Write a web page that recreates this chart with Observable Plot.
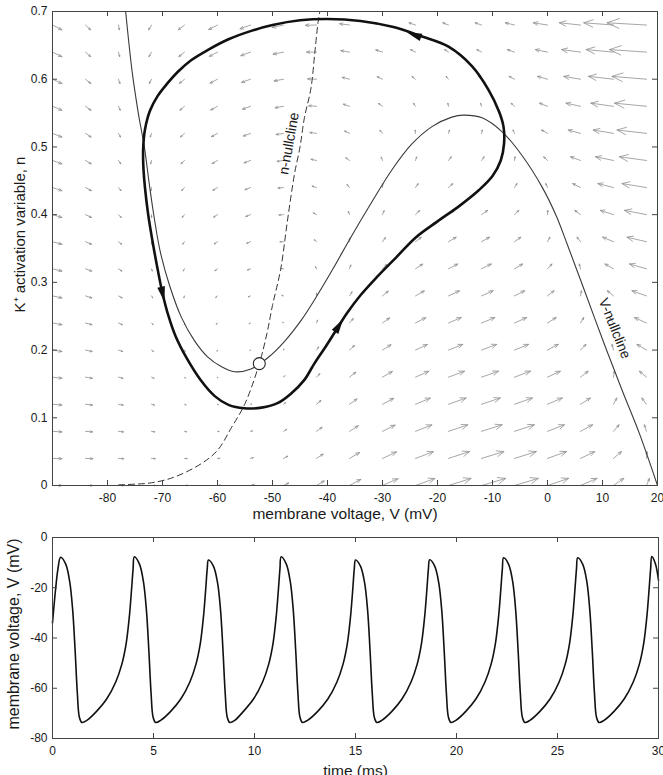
<!DOCTYPE html>
<html><head><meta charset="utf-8">
<script src="https://cdn.jsdelivr.net/npm/d3@7"></script>
<script src="https://cdn.jsdelivr.net/npm/@observablehq/plot@0.6"></script>
<style>
body{margin:0;background:#fff;}
#chart svg{display:block;}
</style></head><body><div id="chart"></div>
<script>
// ---------- Phase plane: vector field (dV/dt, dn/dt at grid points) ----------
const V_GRID = [-90,-84,-78,-72,-66,-60,-54,-48,-42,-36,-30,-24,-18,-12,-6,0,6,12,18];
const N_GRID = [0,0.04,0.08,0.12,0.16,0.2,0.24,0.28,0.32,0.36,0.4,0.44,0.48,0.52,0.56,0.6,0.64,0.68];
// one inner list per V column, entries follow N_GRID
const DVDT = [
[164,164,164,164,164,164,164,164,164,164,164,164,164,164,164,164,164,164],
[127.8,125.4,123,120.6,118.2,115.8,113.4,111,108.6,106.2,103.8,101.4,99,96.6,94.2,91.8,89.4,87],
[96.6,91.8,87,82.2,77.4,72.6,67.8,63,58.2,53.4,48.6,43.8,39,34.2,29.4,24.6,19.8,15],
[71.9,64.7,57.5,50.3,43.1,35.9,28.7,21.5,14.3,7.1,-0.1,-7.3,-14.5,-21.7,-28.9,-36.1,-43.3,-50.5],
[56.2,46.6,37,27.4,17.8,8.2,-1.4,-11,-20.6,-30.2,-39.8,-49.4,-59,-68.6,-78.2,-87.8,-97.4,-107],
[51.9,39.9,27.9,15.9,3.9,-8.1,-20.1,-32.1,-44.1,-56.1,-68.1,-80.1,-92.1,-104.1,-116.1,-128.1,-140.1,-152.1],
[62.2,47.8,33.4,19,4.6,-9.8,-24.2,-38.6,-53,-67.4,-81.8,-96.2,-110.6,-125,-139.4,-153.8,-168.2,-182.6],
[89.3,72.5,55.7,38.9,22.1,5.3,-11.5,-28.3,-45.1,-61.9,-78.7,-95.5,-112.3,-129.1,-145.9,-162.7,-179.5,-196.3],
[134.5,115.3,96.1,76.9,57.7,38.5,19.3,0.1,-19.1,-38.3,-57.5,-76.7,-95.9,-115.1,-134.3,-153.5,-172.7,-191.9],
[195.6,174,152.4,130.8,109.2,87.6,66,44.4,22.8,1.2,-20.4,-42,-63.6,-85.2,-106.8,-128.4,-150,-171.6],
[266.7,242.7,218.7,194.7,170.7,146.7,122.7,98.7,74.7,50.7,26.7,2.7,-21.3,-45.3,-69.3,-93.3,-117.3,-141.3],
[336.7,310.3,283.9,257.5,231.1,204.7,178.3,151.9,125.5,99.1,72.7,46.3,19.9,-6.5,-32.9,-59.3,-85.7,-112.1],
[391.9,363.1,334.3,305.5,276.7,247.9,219.1,190.3,161.5,132.7,103.9,75.1,46.3,17.5,-11.3,-40.1,-68.9,-97.7],
[419.6,388.4,357.2,326,294.8,263.6,232.4,201.2,170,138.8,107.6,76.4,45.2,14,-17.2,-48.4,-79.6,-110.8],
[411.5,377.9,344.3,310.7,277.1,243.5,209.9,176.3,142.7,109.1,75.5,41.9,8.3,-25.3,-58.9,-92.5,-126.1,-159.7],
[365.7,329.7,293.7,257.7,221.7,185.7,149.7,113.7,77.7,41.7,5.7,-30.3,-66.3,-102.3,-138.3,-174.3,-210.3,-246.3],
[285.8,247.4,209,170.6,132.2,93.8,55.4,17,-21.4,-59.8,-98.2,-136.6,-175,-213.4,-251.8,-290.2,-328.6,-367],
[178.4,137.6,96.8,56,15.2,-25.6,-66.4,-107.2,-148,-188.8,-229.6,-270.4,-311.2,-352,-392.8,-433.6,-474.4,-515.2],
[50.2,7,-36.2,-79.4,-122.6,-165.8,-209,-252.2,-295.4,-338.6,-381.8,-425,-468.2,-511.4,-554.6,-597.8,-641,-684.2]
];
const DNDT = [
[0,-0.04,-0.08,-0.12,-0.16,-0.2,-0.24,-0.28,-0.32,-0.36,-0.4,-0.44,-0.48,-0.52,-0.56,-0.6,-0.64,-0.68],
[0,-0.04,-0.08,-0.12,-0.16,-0.2,-0.24,-0.28,-0.32,-0.36,-0.4,-0.44,-0.48,-0.52,-0.56,-0.6,-0.64,-0.68],
[0.001,-0.039,-0.079,-0.119,-0.159,-0.199,-0.239,-0.279,-0.319,-0.359,-0.399,-0.439,-0.479,-0.519,-0.559,-0.599,-0.639,-0.679],
[0.005,-0.036,-0.076,-0.116,-0.156,-0.196,-0.236,-0.276,-0.316,-0.356,-0.396,-0.436,-0.476,-0.516,-0.556,-0.596,-0.636,-0.676],
[0.015,-0.025,-0.065,-0.105,-0.145,-0.185,-0.225,-0.265,-0.305,-0.345,-0.385,-0.425,-0.465,-0.505,-0.545,-0.585,-0.625,-0.665],
[0.047,0.007,-0.033,-0.073,-0.113,-0.153,-0.193,-0.233,-0.273,-0.313,-0.353,-0.393,-0.433,-0.473,-0.513,-0.553,-0.593,-0.633],
[0.142,0.102,0.062,0.022,-0.018,-0.058,-0.098,-0.138,-0.178,-0.218,-0.258,-0.298,-0.338,-0.378,-0.418,-0.458,-0.498,-0.538],
[0.354,0.314,0.274,0.234,0.194,0.154,0.114,0.074,0.034,-0.006,-0.046,-0.086,-0.126,-0.166,-0.206,-0.246,-0.286,-0.326],
[0.646,0.606,0.566,0.526,0.486,0.446,0.406,0.366,0.326,0.286,0.246,0.206,0.166,0.126,0.086,0.046,0.006,-0.034],
[0.858,0.818,0.778,0.738,0.698,0.658,0.618,0.578,0.538,0.498,0.458,0.418,0.378,0.338,0.298,0.258,0.218,0.178],
[0.953,0.913,0.873,0.833,0.793,0.753,0.713,0.673,0.633,0.593,0.553,0.513,0.473,0.433,0.393,0.353,0.313,0.273],
[0.985,0.945,0.905,0.865,0.825,0.785,0.745,0.705,0.665,0.625,0.585,0.545,0.505,0.465,0.425,0.385,0.345,0.305],
[0.996,0.956,0.916,0.876,0.836,0.796,0.756,0.716,0.676,0.636,0.596,0.556,0.516,0.476,0.436,0.396,0.356,0.316],
[0.999,0.959,0.919,0.879,0.839,0.799,0.759,0.719,0.679,0.639,0.599,0.559,0.519,0.479,0.439,0.399,0.359,0.319],
[1,0.96,0.92,0.88,0.84,0.8,0.76,0.72,0.68,0.64,0.6,0.56,0.52,0.48,0.44,0.4,0.36,0.32],
[1,0.96,0.92,0.88,0.84,0.8,0.76,0.72,0.68,0.64,0.6,0.56,0.52,0.48,0.44,0.4,0.36,0.32],
[1,0.96,0.92,0.88,0.84,0.8,0.76,0.72,0.68,0.64,0.6,0.56,0.52,0.48,0.44,0.4,0.36,0.32],
[1,0.96,0.92,0.88,0.84,0.8,0.76,0.72,0.68,0.64,0.6,0.56,0.52,0.48,0.44,0.4,0.36,0.32],
[1,0.96,0.92,0.88,0.84,0.8,0.76,0.72,0.68,0.64,0.6,0.56,0.52,0.48,0.44,0.4,0.36,0.32]
];

// ---------- Phase plane curves ----------
const CYCLE_V = [-7.9,-8.0,-8.8,-10.7,-13.7,-18.0,-22.8,-28.0,-34.0,-40.0,-45.0,-50.0,-54.0,-58.0,-61.8,-64.8,-67.2,-69.3,-70.9,-72.3,-73.2,-73.5,-73.5,-73.2,-72.6,-71.8,-70.9,-70.0,-68.9,-67.6,-65.6,-63.0,-60.5,-58.0,-55.1,-52.0,-49.0,-46.6,-44.2,-42.4,-40.5,-38.7,-36.5,-34.0,-31.0,-27.5,-24.0,-20.0,-16.0,-12.5,-10.0,-8.5];
const CYCLE_N = [0.505,0.530,0.552,0.584,0.619,0.648,0.663,0.677,0.686,0.689,0.687,0.680,0.671,0.659,0.643,0.628,0.611,0.592,0.575,0.553,0.525,0.500,0.475,0.441,0.400,0.360,0.320,0.284,0.250,0.220,0.188,0.155,0.132,0.119,0.114,0.115,0.122,0.136,0.156,0.180,0.203,0.226,0.254,0.281,0.308,0.337,0.366,0.390,0.413,0.436,0.457,0.480];

const VNULL_V = [-76.7,-75.5,-74.4,-73.3,-72.4,-71.5,-70.4,-68.7,-66.6,-64.2,-61.8,-59.4,-56.9,-53.9,-50.8,-47.8,-44.7,-42.0,-39.0,-35.8,-32.0,-28.3,-24.7,-21.0,-17.4,-15.3,-11.9,-8.2,-4.6,-1.0,1.6,3.6,6.4,10.0,13.6,16.7,20.0];
const VNULL_N = [0.700,0.610,0.550,0.500,0.445,0.395,0.345,0.295,0.249,0.214,0.190,0.176,0.168,0.172,0.189,0.213,0.245,0.279,0.320,0.366,0.418,0.466,0.504,0.530,0.544,0.547,0.543,0.522,0.487,0.441,0.398,0.356,0.295,0.216,0.140,0.077,0.0];

const NNULL_V = [-78,-75,-72,-68,-63,-60,-57.5,-55,-52.4,-51,-50,-48.5,-47.3,-46,-45,-44.2,-43,-42.3,-41.7,-41.4];
const NNULL_N = [0.001,0.002,0.004,0.012,0.032,0.052,0.085,0.121,0.180,0.225,0.266,0.320,0.390,0.460,0.500,0.543,0.587,0.640,0.685,0.700];

const EQUILIBRIUM = {V: -52.4, n: 0.18};
// arrowheads on the limit cycle: position and direction of travel
const HEAD_V  = [-70.0, -38.0, -24.1];
const HEAD_N  = [0.284, 0.235, 0.665];
const HEAD_DV = [1.9, 7.4, -10];
const HEAD_DN = [-0.07, 0.094, 0.029];

const X_TICKS_TOP = [-80,-70,-60,-50,-40,-30,-20,-10,0,10,20];
const Y_TICKS_TOP = [0,0.1,0.2,0.3,0.4,0.5,0.6,0.7];

// ---------- Voltage trace ----------
const TRACE_T = [0,0.16,0.27,0.40,
0.65,0.85,1.00,1.12,1.23,1.33,1.45,1.70,2.18,2.68,3.13,3.43,3.65,3.81,3.92,3.99,4.05,
4.30,4.50,4.65,4.77,4.88,4.98,5.10,5.35,5.85,6.35,6.80,7.10,7.32,7.48,7.59,7.66,7.72,
7.97,8.17,8.32,8.44,8.55,8.65,8.77,9.02,9.45,9.95,10.40,10.70,10.92,11.08,11.19,11.26,11.32,
11.57,11.77,11.92,12.04,12.15,12.25,12.37,12.62,13.13,13.63,14.08,14.38,14.60,14.76,14.87,14.94,15.00,
15.25,15.45,15.60,15.72,15.83,15.93,16.05,16.30,16.80,17.30,17.75,18.05,18.27,18.43,18.54,18.61,18.67,
18.92,19.12,19.27,19.39,19.50,19.60,19.72,19.97,20.46,20.96,21.41,21.71,21.93,22.09,22.20,22.27,22.33,
22.58,22.78,22.93,23.05,23.16,23.26,23.38,23.63,24.13,24.63,25.08,25.38,25.60,25.76,25.87,25.94,26.00,
26.25,26.45,26.60,26.72,26.83,26.93,27.05,27.30,27.80,28.30,28.75,29.05,29.27,29.43,29.54,29.61,29.67,
29.85,30.0];
const TRACE_V = [-34,-20,-12.5,-7.9,
-10.5,-17.5,-29,-45,-62,-71.5,-73.6,-72.8,-69.2,-64.3,-57.5,-50.5,-42,-31,-20,-12.5,-7.7,
-10.5,-17.5,-29,-45,-62,-71.5,-73.6,-72.8,-69.2,-64.3,-57.5,-50.5,-42,-31,-20,-12.5,-9.0,
-11.5,-18,-29,-45,-62,-71.5,-73.6,-72.8,-69.2,-64.3,-57.5,-50.5,-42,-31,-20,-12.5,-7.7,
-10.5,-17.5,-29,-45,-62,-71.5,-73.6,-72.8,-69.2,-64.3,-57.5,-50.5,-42,-31,-20,-12.5,-9.0,
-11.5,-18,-29,-45,-62,-71.5,-73.6,-72.8,-69.2,-64.3,-57.5,-50.5,-42,-31,-20,-12.5,-8.9,
-11.4,-18,-29,-45,-62,-71.5,-73.6,-72.8,-69.2,-64.3,-57.5,-50.5,-42,-31,-20,-12.5,-8.1,
-10.7,-17.5,-29,-45,-62,-71.5,-73.6,-72.8,-69.2,-64.3,-57.5,-50.5,-42,-31,-20,-12.5,-8.1,
-10.7,-17.5,-29,-45,-62,-71.5,-73.6,-72.8,-69.2,-64.3,-57.5,-50.5,-42,-31,-20,-12.5,-7.6,
-10.5,-17];
const X_TICKS_BOT = [0,5,10,15,20,25,30];
const Y_TICKS_BOT = [-80,-60,-40,-20,0];

// ---------- build tables ----------
const field = [];
V_GRID.forEach((V, i) => N_GRID.forEach((n, j) => field.push({V, n, dV: DVDT[i][j], dn: DNDT[i][j]})));
const cycle = CYCLE_V.map((V, i) => ({V, n: CYCLE_N[i]}));
const vNull = VNULL_V.map((V, i) => ({V, n: VNULL_N[i]}));
const nNull = NNULL_V.map((V, i) => ({V, n: NNULL_N[i]}));
const trace = TRACE_T.map((t, i) => ({t, V: TRACE_V[i]}));

const W = 663;
const FONT = "'Liberation Sans', Arial, Helvetica, sans-serif";
const QUIVER = 0.0105; // quiver length factor (ms)

// top layout
const T_H = 530, T_MT = 11, T_MB = 45, T_ML = 52, T_MR = 6;
const kx = (W - T_ML - T_MR) / 110, ky = (T_H - T_MT - T_MB) / 0.7;
const heads = HEAD_V.map((V, i) => ({V, n: HEAD_N[i],
  rot: Math.atan2(HEAD_DV[i] * kx, HEAD_DN[i] * ky) * 180 / Math.PI}));

const headSymbol = {draw(ctx, size) {
  const l = Math.sqrt(size);
  ctx.moveTo(0, -l * 0.95);
  ctx.lineTo(l * 0.42, l * 0.7);
  ctx.lineTo(-l * 0.42, l * 0.7);
  ctx.closePath();
}};

const tickLen = 5;
const topFrameH = T_H - T_MT - T_MB, topFrameW = W - T_ML - T_MR;

const topPlot = Plot.plot({
  width: W, height: T_H,
  marginTop: T_MT, marginBottom: T_MB, marginLeft: T_ML, marginRight: T_MR,
  x: {domain: [-90, 20]},
  y: {domain: [0, 0.7]},
  style: {fontFamily: FONT, fontSize: "12px", color: "#1a1a1a", background: "white", overflow: "visible"},
  marks: [
    Plot.arrow(field, {x1: "V", y1: "n", x2: d => d.V + d.dV * QUIVER, y2: d => d.n + d.dn * QUIVER,
      stroke: "#8f8f8f", strokeWidth: 0.8, headLength: 40, headAngle: 44}),
    Plot.line(vNull, {x: "V", y: "n", curve: "catmull-rom", stroke: "#3a3a3a", strokeWidth: 1.1}),
    Plot.line(nNull, {x: "V", y: "n", curve: "catmull-rom", stroke: "#333", strokeWidth: 1, strokeDasharray: "6,4"}),
    Plot.line(cycle, {x: "V", y: "n", curve: "catmull-rom-closed", stroke: "#111", strokeWidth: 2.6}),
    Plot.dot(heads, {x: "V", y: "n", rotate: "rot", symbol: headSymbol, r: 5.2, fill: "#111", stroke: "none"}),
    Plot.dot([EQUILIBRIUM], {x: "V", y: "n", r: 6, fill: "white", stroke: "#222", strokeWidth: 1.1}),
    Plot.text(["n-nullcline"], {x: -47.0, y: 0.505, text: d => d, rotate: -80, fontSize: 14, fill: "#1a1a1a"}),
    Plot.text(["V-nullcline"], {x: 12.2, y: 0.232, text: d => d, rotate: 68, fontSize: 14, fill: "#1a1a1a"}),
    Plot.frame({stroke: "#444", strokeWidth: 1}),
    Plot.tickX(X_TICKS_TOP, {x: d => d, insetTop: topFrameH - tickLen, stroke: "#444"}),
    Plot.tickX(X_TICKS_TOP, {x: d => d, insetBottom: topFrameH - tickLen, stroke: "#444"}),
    Plot.tickY(Y_TICKS_TOP, {y: d => d, insetRight: topFrameW - tickLen, stroke: "#444"}),
    Plot.tickY(Y_TICKS_TOP, {y: d => d, insetLeft: topFrameW - tickLen, stroke: "#444"}),
    Plot.axisX(X_TICKS_TOP, {tickSize: 0, tickPadding: 8, tickFormat: d => String(d), label: null}),
    Plot.axisY(Y_TICKS_TOP, {tickSize: 0, tickPadding: 5, tickFormat: d => String(d), label: null}),
    Plot.text(["membrane voltage, V (mV)"], {frameAnchor: "bottom", dx: -10, dy: 33, text: d => d, textAnchor: "middle", fontSize: 15.5, fill: "#1a1a1a"}),
    Plot.text(["K⁺ activation variable, n"], {frameAnchor: "left", dx: -32, dy: -14, rotate: -90, text: d => d, textAnchor: "middle", fontSize: 15, fill: "#1a1a1a"})
  ]
});

// bottom layout
const B_H = 245, B_MT = 7, B_MB = 37, B_ML = 52, B_MR = 5;
const botFrameH = B_H - B_MT - B_MB, botFrameW = W - B_ML - B_MR;
const botPlot = Plot.plot({
  width: W, height: B_H,
  marginTop: B_MT, marginBottom: B_MB, marginLeft: B_ML, marginRight: B_MR,
  x: {domain: [0, 30]},
  y: {domain: [-80, 0]},
  style: {fontFamily: FONT, fontSize: "12px", color: "#1a1a1a", background: "white"},
  marks: [
    Plot.line(trace, {x: "t", y: "V", curve: "catmull-rom", stroke: "#111", strokeWidth: 1.6}),
    Plot.frame({stroke: "#444", strokeWidth: 1}),
    Plot.tickX(X_TICKS_BOT, {x: d => d, insetTop: botFrameH - tickLen, stroke: "#444"}),
    Plot.tickX(X_TICKS_BOT, {x: d => d, insetBottom: botFrameH - tickLen, stroke: "#444"}),
    Plot.tickY(Y_TICKS_BOT, {y: d => d, insetRight: botFrameW - tickLen, stroke: "#444"}),
    Plot.tickY(Y_TICKS_BOT, {y: d => d, insetLeft: botFrameW - tickLen, stroke: "#444"}),
    Plot.axisX(X_TICKS_BOT, {tickSize: 0, tickPadding: 8, tickFormat: d => String(d), label: null}),
    Plot.axisY(Y_TICKS_BOT, {tickSize: 0, tickPadding: 5, tickFormat: d => String(d), label: null}),
    Plot.text(["time (ms)"], {frameAnchor: "bottom", dy: 37, text: d => d, textAnchor: "middle", fontSize: 15.5, fill: "#1a1a1a"}),
    Plot.text(["membrane voltage, V (mV)"], {frameAnchor: "left", dx: -39, dy: -4, rotate: -90, text: d => d, textAnchor: "middle", fontSize: 16, fill: "#1a1a1a"})
  ]
});

const root = document.getElementById("chart");
root.appendChild(topPlot);
root.appendChild(botPlot);
</script></body></html>
